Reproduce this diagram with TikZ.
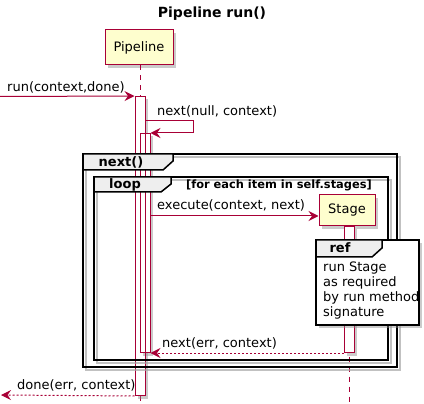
\documentclass[tikz,border=0pt]{standalone}
\usepackage{fontspec}
\setmainfont{DejaVu Sans}
\usetikzlibrary{arrows.meta,shadows}
\definecolor{pred}{HTML}{A80036}
\definecolor{pfill}{HTML}{FEFECE}
\definecolor{hdr}{HTML}{EEEEEE}
\tikzset{
  shad/.style={drop shadow={shadow xshift=3pt,shadow yshift=-3pt,fill=black!45,opacity=0.45}},
  part/.style={draw=pred, fill=pfill, line width=1pt, inner sep=0pt, shad,
    font=\fontsize{13}{15}\selectfont},
  actbar/.style={draw=pred, fill=white, line width=1pt, minimum width=10pt, inner sep=0pt, anchor=north, shad},
  barline/.style={draw=pred, line width=1pt, minimum width=10pt, inner sep=0pt, anchor=north},
  life/.style={draw=pred, line width=0.8pt, dash pattern=on 5pt off 5pt},
  msg/.style={draw=pred, line width=1pt, -{Stealth[length=10pt,width=10pt,inset=3.5pt]}},
  ret/.style={msg, dash pattern=on 2pt off 2pt},
  lbl/.style={font=\fontsize{13}{15}\selectfont, inner sep=0pt, anchor=west},
  frmshadow/.style={draw=black!35, line width=2pt, opacity=0.7},
  frm/.style={draw=black, line width=1.5pt},
  reffrm/.style={draw=black, fill=white, line width=1.5pt, shad},
  tabshape/.style={draw=black, fill=hdr, line width=1.5pt},
  tabtxt/.style={font=\bfseries\fontsize{13}{15}\selectfont, inner sep=0pt},
}
\begin{document}
\begin{tikzpicture}[x=1pt,y=-1pt]
\useasboundingbox (0,0) rectangle (424,404);
% title
\node[font=\bfseries\fontsize{14}{16}\selectfont, inner sep=0pt] (title) at (212,14) {Pipeline run()};
% participants and lifelines
\node[part, minimum width=68pt, minimum height=35pt] (pipe) at (139,47.5) {Pipeline};
\coordinate (pipeend) at (140,404);
\draw[life] (pipe.south -| pipeend) -- (pipeend);
\node[part, minimum width=56pt, minimum height=31pt] (stage) at (347,210.5) {Stage};
\coordinate (stageend) at (349,404);
\draw[life] (stage.south -| stageend) -- (stageend);
% activation bars
\node[actbar, minimum height=299pt] (a1) at (140,96) {};
\node[actbar, minimum height=219pt] (a2) at (145,133) {};
\node[barline, minimum height=299pt] (a1b) at (140,96) {};
\node[actbar, minimum height=126pt] (a3) at (349,226) {};
% frames
\draw[frmshadow] (86,157) rectangle (400,370);
\draw[frm] (83,154) rectangle (397,367);
\draw[tabshape] (83,154) -- (173,154) -- (173,161) -- (163,170) -- (83,170) -- cycle;
\node[tabtxt] (nexttab) at (121,162) {next()};
\draw[frmshadow] (97,180) rectangle (391,363);
\draw[frm] (94,177) rectangle (388,360);
\draw[tabshape] (94,177) -- (171,177) -- (171,184) -- (161,192) -- (94,192) -- cycle;
\node[tabtxt] (looptab) at (125,184.5) {loop};
\node[font=\bfseries\fontsize{11.4}{13}\selectfont, inner sep=0pt, anchor=east] (cond) at (372,185) {[for each item in self.stages]};
% ref frame
\path[reffrm] (316,240) rectangle (419,325);
\draw[tabshape] (316,240) -- (382,240) -- (382,248) -- (372,257) -- (316,257) -- cycle;
\node[tabtxt] (reftab) at (340,248) {ref};
\node[font=\fontsize{13}{15}\selectfont, inner sep=0pt, anchor=north west, align=left] (reftxt) at (323,262) {run Stage\\as required\\by run method\\signature};
% messages
\coordinate (runstart) at (0,96.5);
\draw[msg] (runstart) -- (a1.north west);
\node[lbl] (runlbl) at (7,87) {run(context,done)};
\coordinate (selfa) at (145,121);
\draw[msg] (selfa) -- ++(48,0) |- (a2.north east);
\node[lbl] (selflbl) at (157,111) {next(null, context)};
\coordinate (execa) at (150,216);
\draw[msg] (execa) -- (stage.west |- execa);
\node[lbl] (execlbl) at (157,205) {execute(context, next)};
\draw[ret] (a3.south west) -- (a2.south east);
\node[lbl] (nextlbl) at (162,343) {next(err, context)};
\coordinate (doneend) at (1,395);
\draw[ret] (a1.south west) -- (doneend);
\node[lbl] (donelbl) at (17,385) {done(err, context)};
\end{tikzpicture}
\end{document}
